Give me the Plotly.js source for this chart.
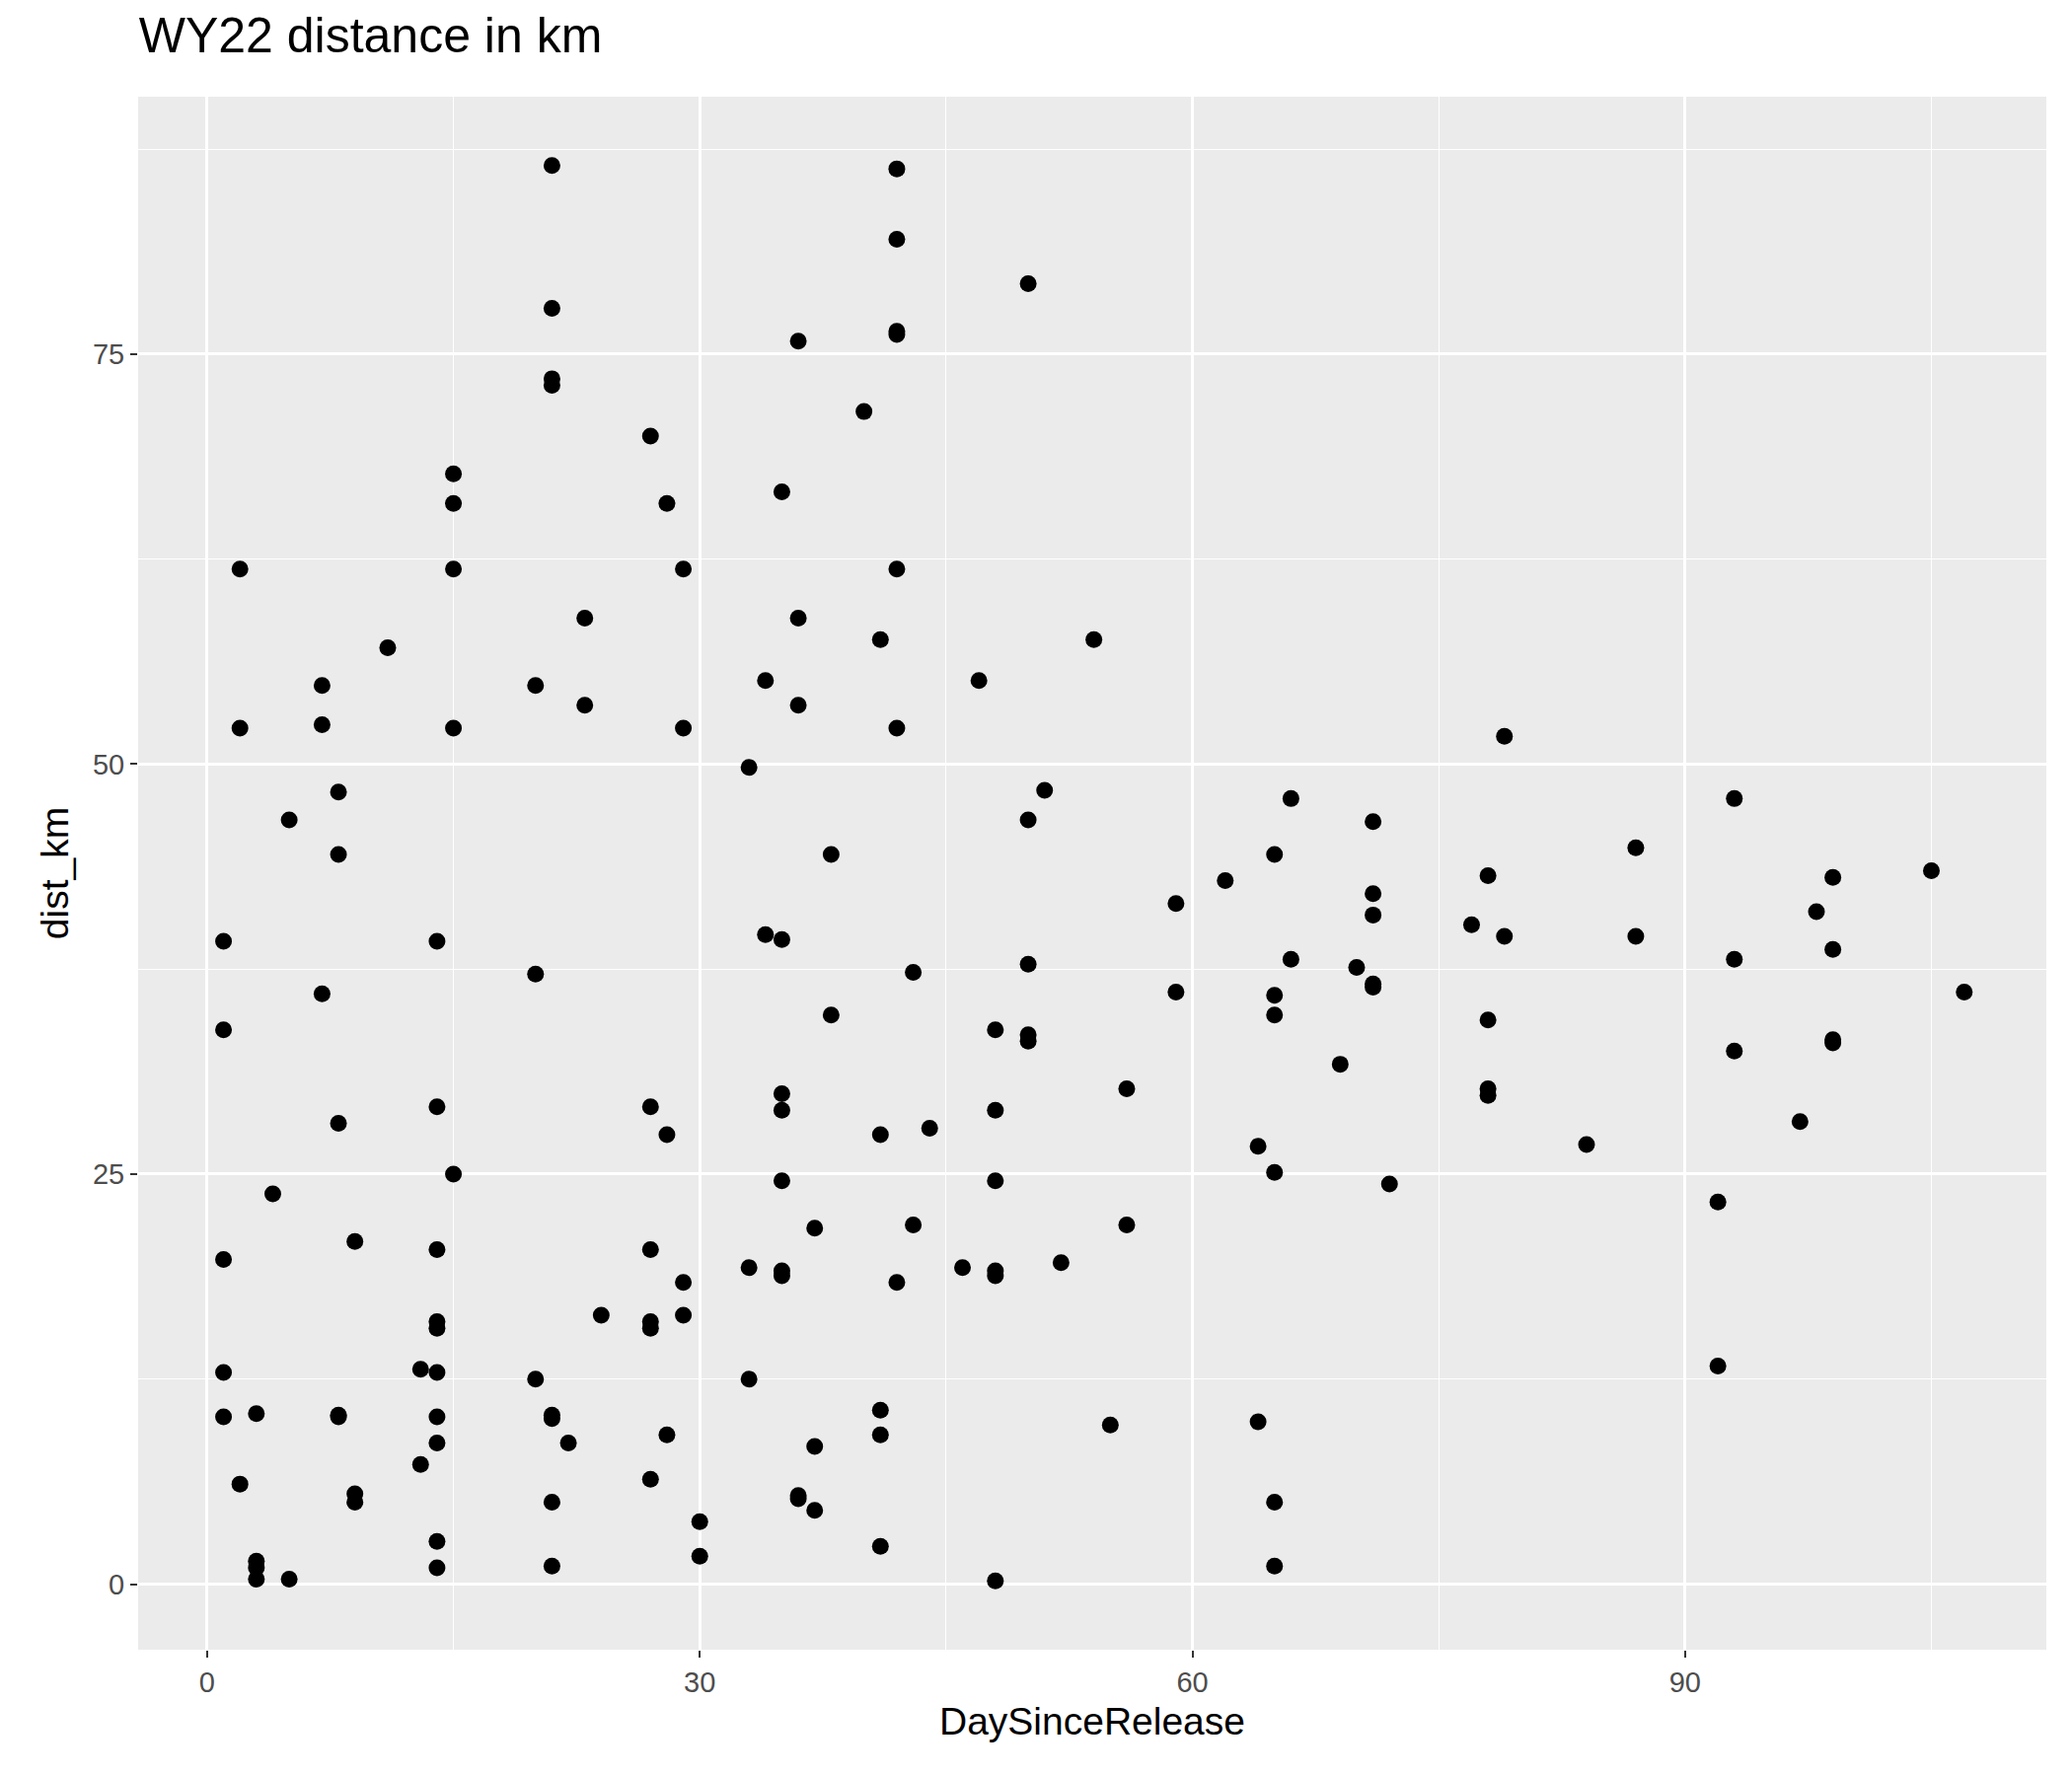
<!DOCTYPE html>
<html>
<head>
<meta charset="utf-8">
<script src="https://cdn.plot.ly/plotly-3.0.1.min.js"></script>
<style>body{margin:0;background:#fff}</style>
</head>
<body>
<div id="chart" style="width:2100px;height:1800px"></div>
<script>
// days since release
var daySinceRelease = [21,42,42,50,21,42,42,36,21,21,40,27,15,35,15,28,2,15,29,42,
  23,36,11,41,54,7,20,34,47,23,36,2,7,15,29,42,79,33,8,51,66,93,5,50,71,87,8,38,65,78,
  99,62,105,71,59,98,71,77,34,35,79,87,1,14,99,66,93,50,70,20,43,71,71,7,59,65,107,38,65,78,
  1,48,50,50,99,99,93,69,56,35,78,78,14,27,35,48,8,97,44,28,41,64,84,15,65,35,48,72,4,92,
  37,43,56,9,14,27,1,52,33,46,35,35,48,48,29,42,24,29,14,27,14,27,13,1,14,92,20,33,
  41,3,8,8,1,14,21,21,64,55,28,41,14,22,37,13,27,2,9,9,36,36,21,65,37,30,14,41,30,3,3,14,21,65,3,5,48];
var distKm = [86.5,86.3,82.0,79.3,77.8,76.4,76.2,75.8,73.5,73.1,71.5,70.0,67.7,66.6,65.9,65.9,61.9,61.9,61.9,61.9,
  58.9,58.9,57.1,57.6,57.6,54.8,54.8,55.1,55.1,53.6,53.6,52.2,52.4,52.2,52.2,52.2,51.7,49.8,48.3,48.4,47.9,47.9,46.6,46.6,46.5,44.9,44.5,44.5,44.5,43.2,
  43.1,42.9,43.5,42.1,41.5,41.0,40.8,40.2,39.6,39.3,39.5,39.5,39.2,39.2,38.7,38.1,38.1,37.8,37.6,37.2,37.3,36.6,36.4,36.0,36.1,35.9,36.1,34.7,34.7,34.4,
  33.8,33.8,33.5,33.1,33.2,33.0,32.5,31.7,30.2,29.9,30.2,29.8,29.1,29.1,28.9,28.9,28.1,28.2,27.8,27.4,27.4,26.7,26.8,25.0,25.1,24.6,24.6,24.4,23.8,23.3,
  21.7,21.9,21.9,20.9,20.4,20.4,19.8,19.6,19.3,19.3,19.1,18.8,19.1,18.8,18.4,18.4,16.4,16.4,16.0,16.0,15.6,15.6,13.1,12.9,12.9,13.3,12.5,12.5,
  10.6,10.4,10.3,10.2,10.2,10.2,10.3,10.1,9.9,9.7,9.1,9.1,8.6,8.6,8.4,7.3,6.4,6.1,5.5,5.0,5.4,5.2,5.0,5.0,4.5,3.8,2.6,2.3,1.7,1.4,1.0,1.0,1.1,1.1,0.3,0.3,0.2];
var xTicks = [0, 30, 60, 90];
var yTicks = [0, 25, 50, 75];

var trace = {
  x: daySinceRelease,
  y: distKm,
  type: 'scatter',
  mode: 'markers',
  marker: {color: '#000000', size: 17},
  hoverinfo: 'x+y'
};

var axisCommon = {
  showgrid: true, gridcolor: '#ffffff', gridwidth: 2.6,
  zeroline: false, showline: false,
  ticks: 'outside', ticklen: 7, tickwidth: 2, tickcolor: '#333333',
  tickfont: {family: 'Liberation Sans, Arial', size: 29, color: '#4d4d4d'},
  minor: {showgrid: true, gridcolor: '#ffffff', gridwidth: 1.3, ticks: ''}
};

var layout = {
  width: 2100, height: 1800,
  paper_bgcolor: '#ffffff', plot_bgcolor: '#ebebeb',
  margin: {l: 140, r: 26, t: 98, b: 128},
  showlegend: false,
  title: {text: 'WY22 distance in km', x: 0.067, xanchor: 'left', y: 0.99, yanchor: 'top',
    font: {family: 'Liberation Sans, Arial', size: 50, color: '#000000'}},
  xaxis: Object.assign({}, axisCommon, {
    range: [-4.2, 112], tickvals: xTicks, ticktext: xTicks.map(String),
    minor: Object.assign({}, axisCommon.minor, {tickvals: [15, 45, 75, 105]}),
    title: {text: 'DaySinceRelease', standoff: 10, font: {family: 'Liberation Sans, Arial', size: 39, color: '#000000'}}
  }),
  yaxis: Object.assign({}, axisCommon, {
    range: [-4.0, 90.7], tickvals: yTicks, ticktext: yTicks.map(String),
    minor: Object.assign({}, axisCommon.minor, {tickvals: [12.5, 37.5, 62.5, 87.5]}),
    title: {text: 'dist_km', standoff: 12, font: {family: 'Liberation Sans, Arial', size: 39, color: '#000000'}}
  })
};

Plotly.newPlot('chart', [trace], layout, {displayModeBar: false});
</script>
</body>
</html>
